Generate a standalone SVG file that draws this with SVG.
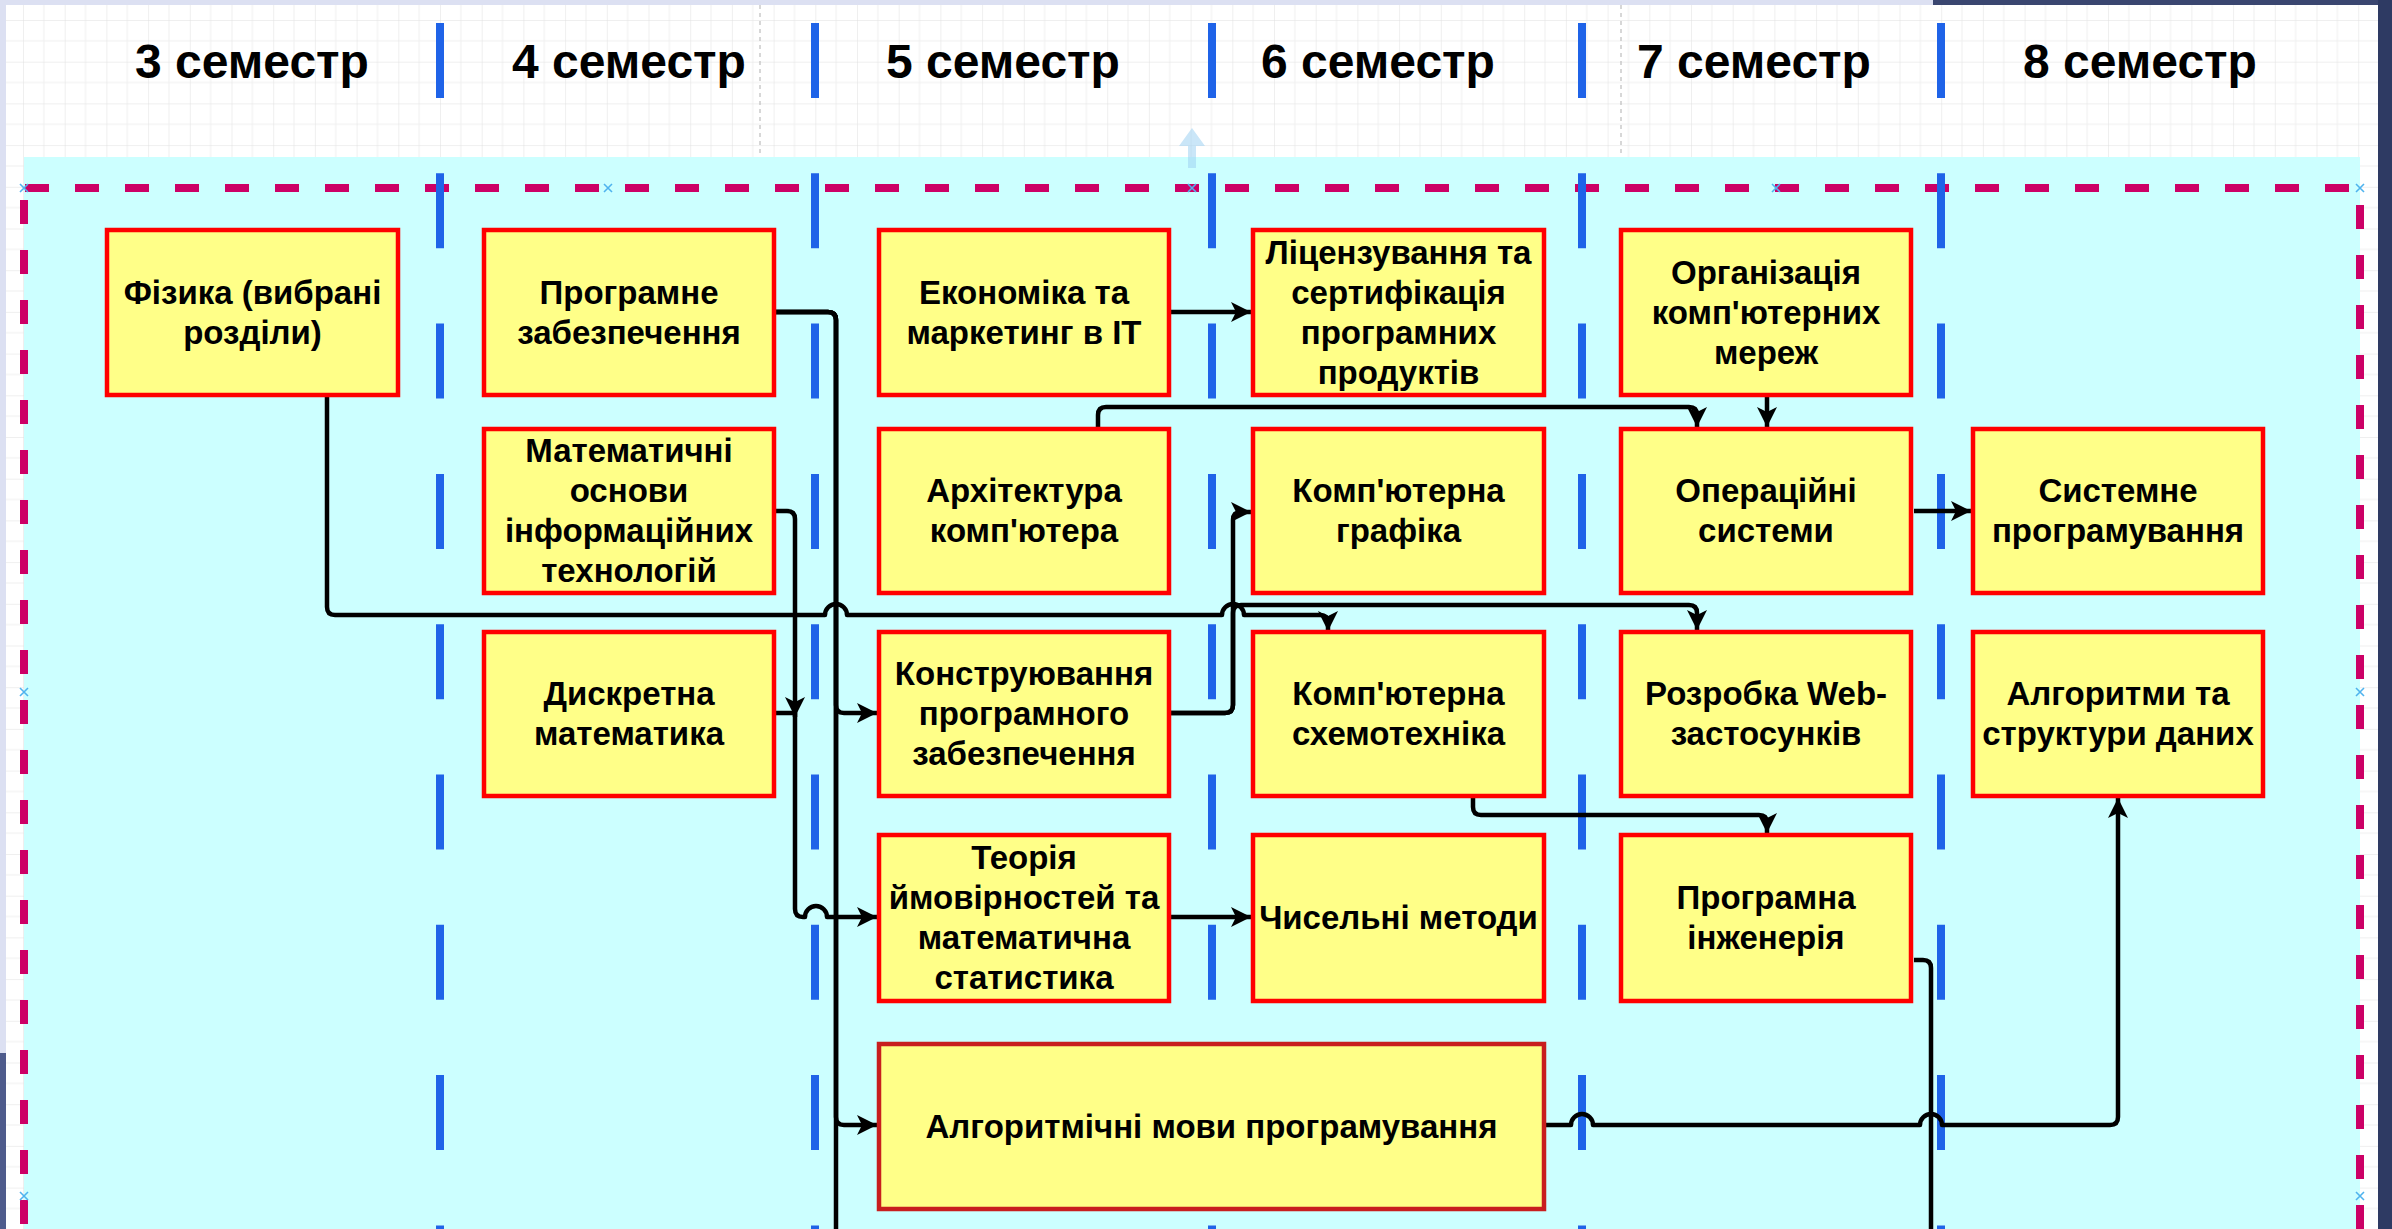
<svg xmlns="http://www.w3.org/2000/svg" width="2392" height="1229" viewBox="0 0 2392 1229">
<defs>
<style>
.node rect{fill:#FFFF88;stroke:#FF0000;stroke-width:4.5}
.node text{font-family:"Liberation Sans",Arial,sans-serif;font-weight:bold;font-size:33px;fill:#000;text-anchor:middle}
.hdr{font-family:"Liberation Sans",Arial,sans-serif;font-weight:bold;font-size:48px;fill:#000;text-anchor:middle}
.sep{stroke:#1F63E8;stroke-width:8;stroke-dasharray:75 75.3}
.frame{stroke:#CC0066;stroke-width:8;stroke-dasharray:24 26;fill:none}
.edge{fill:none;stroke:#000;stroke-width:4.5;stroke-linejoin:round}
.arr{marker-end:url(#arrow)}
.xm{stroke:#4FB3EE;stroke-width:1.6}
</style>
<marker id="arrow" markerUnits="userSpaceOnUse" markerWidth="22" markerHeight="22" refX="20" refY="10" orient="auto">
<path d="M0,0 L20,10 L0,20 L5,10 Z" fill="#000"/>
</marker>
<pattern id="grid" patternUnits="userSpaceOnUse" x="23" y="20" width="41.7" height="41.7">
<path d="M20.85,0 V41.7 M0,20.85 H41.7" stroke="#F0F0F0" stroke-width="1" fill="none"/>
<path d="M0,0 V41.7 M0,0 H41.7" stroke="#E0E0E0" stroke-width="1" fill="none"/>
</pattern>
</defs>

<!-- background -->
<rect x="0" y="0" width="2392" height="1229" fill="#DCE0F2"/>
<rect x="0" y="1053" width="6" height="176" fill="#4E5B8C"/>
<rect x="1933" y="0" width="459" height="5" fill="#3A4670"/>
<rect x="2378" y="0" width="14" height="1229" fill="#2E3A63"/>
<rect x="6" y="5" width="2372" height="1224" fill="#FFFFFF"/>
<rect x="6" y="5" width="2372" height="1224" fill="url(#grid)"/>
<line x1="760" y1="5" x2="760" y2="157" stroke="#BDBDBD" stroke-width="1.2" stroke-dasharray="4 4"/>
<line x1="1621" y1="5" x2="1621" y2="157" stroke="#BDBDBD" stroke-width="1.2" stroke-dasharray="4 4"/>
<rect x="24" y="157" width="2336" height="1072" fill="#CCFFFF"/>

<!-- faint hover arrow -->
<polygon points="1192,128 1205,146 1196,146 1196,168 1188,168 1188,146 1179,146" fill="#9FD2F2" opacity="0.55"/>

<!-- frame -->
<g id="frame">
<line class="frame" x1="25" y1="188" x2="2362" y2="188"/>
<line class="frame" x1="24" y1="200" x2="24" y2="1229"/>
<line class="frame" x1="2360" y1="205" x2="2360" y2="1229"/>
</g>

<!-- semester separators -->
<g id="separators">
<line class="sep" x1="440" y1="23" x2="440" y2="1229"/>
<line class="sep" x1="815" y1="23" x2="815" y2="1229"/>
<line class="sep" x1="1212" y1="23" x2="1212" y2="1229"/>
<line class="sep" x1="1582" y1="23" x2="1582" y2="1229"/>
<line class="sep" x1="1941" y1="23" x2="1941" y2="1229"/>
</g>

<!-- connection point marks -->
<g id="marks">
<path class="xm" d="M20,184 l8,8 m0,-8 l-8,8 M604,184 l8,8 m0,-8 l-8,8 M1188,184 l8,8 m0,-8 l-8,8 M1772,184 l8,8 m0,-8 l-8,8 M2356,184 l8,8 m0,-8 l-8,8 M20,688 l8,8 m0,-8 l-8,8 M20,1192 l8,8 m0,-8 l-8,8 M2356,688 l8,8 m0,-8 l-8,8 M2356,1192 l8,8 m0,-8 l-8,8"/>
</g>

<!-- headers -->
<g id="headers">
<text class="hdr" x="252" y="78">3 семестр</text>
<text class="hdr" x="629" y="78">4 семестр</text>
<text class="hdr" x="1003" y="78">5 семестр</text>
<text class="hdr" x="1378" y="78">6 семестр</text>
<text class="hdr" x="1754" y="78">7 семестр</text>
<text class="hdr" x="2140" y="78">8 семестр</text>
</g>

<!-- connectors -->
<g id="connectors">
<path class="edge arr" d="M327,397 V607 Q327,615 335,615 H825 a11,11 0 0 1 22,0 H1222 a11,11 0 0 1 22,0 H1320 Q1328,615 1328,623 V631"/>
<path class="edge arr" d="M776,312 H828 Q836,312 836,320 V705 Q836,713 844,713 H877"/>
<path class="edge arr" d="M776,312 H828 Q836,312 836,320 V1117 Q836,1125 844,1125 H877"/>
<path class="edge" d="M776,312 H828 Q836,312 836,320 V1229"/>
<path class="edge arr" d="M776,511 H787 Q795,511 795,519 V717"/>
<path class="edge arr" d="M775,713 H795 V909 Q795,917 803,917 H805 a11,11 0 0 1 22,0 H877"/>
<path class="edge arr" d="M1171,312 H1251"/>
<path class="edge arr" d="M1098,427 V415 Q1098,407 1106,407 H1689 Q1697,407 1697,415 V427"/>
<path class="edge arr" d="M1767,397 V427"/>
<path class="edge arr" d="M1914,511 H1971"/>
<path class="edge arr" d="M1171,713 H1225 Q1233,713 1233,705 V520 Q1233,512 1241,512 H1251"/>
<path class="edge arr" d="M1171,713 H1225 Q1233,713 1233,705 V613 Q1233,605 1241,605 H1689 Q1697,605 1697,613 V630"/>
<path class="edge arr" d="M1171,917 H1251"/>
<path class="edge arr" d="M1473,798 V807 Q1473,815 1481,815 H1759 Q1767,815 1767,823 V833"/>
<path class="edge" d="M1914,960 H1923 Q1931,960 1931,968 V1229"/>
<path class="edge arr" d="M1546,1125 H1571 a11,11 0 0 1 22,0 H1920 a11,11 0 0 1 22,0 H2110 Q2118,1125 2118,1117 V798"/>
</g>

<!-- nodes -->
<g id="n-fizyka" class="node"><rect x="107" y="230" width="291" height="165"/>
<text><tspan x="252.5" y="303.5">Фізика (вибрані</tspan><tspan x="252.5" y="343.5">розділи)</tspan></text></g>

<g id="n-prog-zab" class="node"><rect x="484" y="230" width="290" height="165"/>
<text><tspan x="629" y="303.5">Програмне</tspan><tspan x="629" y="343.5">забезпечення</tspan></text></g>

<g id="n-mat-osnovy" class="node"><rect x="484" y="429" width="290" height="164"/>
<text><tspan x="629" y="462">Математичні</tspan><tspan x="629" y="502">основи</tspan><tspan x="629" y="542">інформаційних</tspan><tspan x="629" y="582">технологій</tspan></text></g>

<g id="n-dyskretna" class="node"><rect x="484" y="632" width="290" height="164"/>
<text><tspan x="629" y="705">Дискретна</tspan><tspan x="629" y="745">математика</tspan></text></g>

<g id="n-ekonomika" class="node"><rect x="879" y="230" width="290" height="165"/>
<text><tspan x="1024" y="303.5">Економіка та</tspan><tspan x="1024" y="343.5">маркетинг в ІТ</tspan></text></g>

<g id="n-arkhitektura" class="node"><rect x="879" y="429" width="290" height="164"/>
<text><tspan x="1024" y="502">Архітектура</tspan><tspan x="1024" y="542">комп'ютера</tspan></text></g>

<g id="n-konstruyuvannya" class="node"><rect x="879" y="632" width="290" height="164"/>
<text><tspan x="1024" y="685">Конструювання</tspan><tspan x="1024" y="725">програмного</tspan><tspan x="1024" y="765">забезпечення</tspan></text></g>

<g id="n-teoriya" class="node"><rect x="879" y="835" width="290" height="166"/>
<text><tspan x="1024" y="869">Теорія</tspan><tspan x="1024" y="909">ймовірностей та</tspan><tspan x="1024" y="949">математична</tspan><tspan x="1024" y="989">статистика</tspan></text></g>

<g id="n-alg-movy" class="node"><rect x="879" y="1044" width="665" height="165" style="stroke:#C81E1E"/>
<text><tspan x="1211.5" y="1137.5">Алгоритмічні мови програмування</tspan></text></g>

<g id="n-litsenzuvannya" class="node"><rect x="1253" y="230" width="291" height="165"/>
<text><tspan x="1398.5" y="263.5">Ліцензування та</tspan><tspan x="1398.5" y="303.5">сертифікація</tspan><tspan x="1398.5" y="343.5">програмних</tspan><tspan x="1398.5" y="383.5">продуктів</tspan></text></g>

<g id="n-grafika" class="node"><rect x="1253" y="429" width="291" height="164"/>
<text><tspan x="1398.5" y="502">Комп'ютерна</tspan><tspan x="1398.5" y="542">графіка</tspan></text></g>

<g id="n-skhemotekhnika" class="node"><rect x="1253" y="632" width="291" height="164"/>
<text><tspan x="1398.5" y="705">Комп'ютерна</tspan><tspan x="1398.5" y="745">схемотехніка</tspan></text></g>

<g id="n-chyselni" class="node"><rect x="1253" y="835" width="291" height="166"/>
<text><tspan x="1398.5" y="929">Чисельні методи</tspan></text></g>

<g id="n-orhanizatsiya" class="node"><rect x="1621" y="230" width="290" height="165"/>
<text><tspan x="1766" y="283.5">Організація</tspan><tspan x="1766" y="323.5">комп'ютерних</tspan><tspan x="1766" y="363.5">мереж</tspan></text></g>

<g id="n-operatsiyni" class="node"><rect x="1621" y="429" width="290" height="164"/>
<text><tspan x="1766" y="502">Операційні</tspan><tspan x="1766" y="542">системи</tspan></text></g>

<g id="n-web" class="node"><rect x="1621" y="632" width="290" height="164"/>
<text><tspan x="1766" y="705">Розробка Web-</tspan><tspan x="1766" y="745">застосунків</tspan></text></g>

<g id="n-prog-inzh" class="node"><rect x="1621" y="835" width="290" height="166"/>
<text><tspan x="1766" y="909">Програмна</tspan><tspan x="1766" y="949">інженерія</tspan></text></g>

<g id="n-systemne" class="node"><rect x="1973" y="429" width="290" height="164"/>
<text><tspan x="2118" y="502">Системне</tspan><tspan x="2118" y="542">програмування</tspan></text></g>

<g id="n-alg-struktury" class="node"><rect x="1973" y="632" width="290" height="164"/>
<text><tspan x="2118" y="705">Алгоритми та</tspan><tspan x="2118" y="745">структури даних</tspan></text></g>
</svg>
